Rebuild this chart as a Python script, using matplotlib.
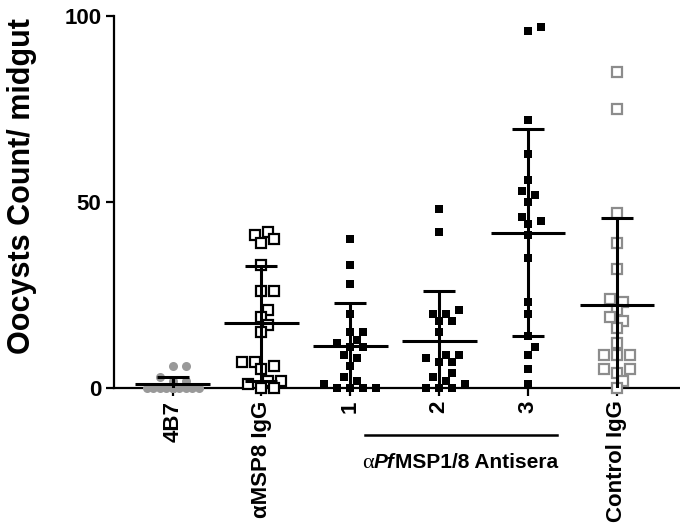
import numpy as np
import matplotlib
matplotlib.use("Agg")
import matplotlib.pyplot as plt
from matplotlib.offsetbox import TextArea, HPacker, AnnotationBbox

plt.rcParams['font.family'] = ['Liberation Sans', 'DejaVu Sans']

categories = ["4B7", "αMSP8 IgG", "1", "2", "3", "Control IgG"]

g_4b7 = [6, 6, 3, 2, 2, 0, 0, 0, 0, 0, 0, 0, 0, 0, 0, 0, 0, 0, 0, 0]
g_msp8 = [42, 41, 40, 39, 33, 26, 26, 21, 19, 17, 15, 7, 7, 6, 5, 2, 2, 1, 0, 0]
g_1 = [40, 33, 28, 20, 15, 15, 13, 12, 11, 11, 9, 8, 6, 3, 2, 1, 0, 0, 0, 0]
g_2 = [48, 42, 21, 20, 20, 18, 18, 15, 9, 9, 8, 7, 7, 4, 3, 2, 1, 0, 0, 0]
g_3 = [97, 96, 72, 63, 56, 53, 52, 50, 46, 45, 44, 41, 35, 23, 20, 14, 11, 9, 5, 1]
g_ctrl = [85, 75, 47, 39, 32, 24, 23, 21, 19, 18, 16, 12, 9, 9, 9, 5, 5, 4, 2, 0]
groups = [g_4b7, g_msp8, g_1, g_2, g_3, g_ctrl]

means = [1.0, 17.4, 11.3, 12.7, 41.8, 22.3]
sds = [2.0, 15.4, 11.6, 13.5, 27.7, 23.5]

yticks = [0, 50, 100]
bracket_label_parts = ["α", "Pf", "MSP1/8 Antisera"]

# ---- styles ----
gray = '#999999'
styles = [
    dict(marker='o', mfc=gray, mec=gray, ms=6.5, mew=0),
    dict(marker='s', mfc='white', mec='black', ms=6.5, mew=1.6),
    dict(marker='s', mfc='black', mec='black', ms=5.6, mew=0),
    dict(marker='s', mfc='black', mec='black', ms=5.6, mew=0),
    dict(marker='s', mfc='black', mec='black', ms=5.6, mew=0),
    dict(marker='s', mfc='white', mec='#8c8c8c', ms=6.5, mew=1.6),
]

W, H = 680, 532
fig = plt.figure(figsize=(W / 100, H / 100), dpi=100)
ax_l, ax_r, ax_b, ax_t = 114, 680, 388, 16
ax = fig.add_axes([ax_l / W, 1 - ax_b / H, (ax_r - ax_l) / W, (ax_b - ax_t) / H])
xmin, xmax = -0.66, 5.71
ax.set_xlim(xmin, xmax)
ax.set_ylim(0, 100)

px_x = (ax_r - ax_l) / (xmax - xmin)
px_y = (ax_b - ax_t) / 100.0


def swarm(vals, step=6.5, dmin=9.0, maxoff=30.0):
    vals = np.asarray(vals, dtype=float)
    cands = [0.0]
    k = 1
    while k * step <= maxoff:
        cands += [k * step, -k * step]
        k += 1
    placed = []
    offs = np.zeros(len(vals))
    for i in np.argsort(vals, kind='stable'):
        y = vals[i] * px_y
        chosen = None
        for c in cands:
            if all(np.hypot(c - px, y - py) >= dmin for px, py in placed):
                chosen = c
                break
        if chosen is None:
            best, bestd = 0.0, -1
            for c in cands:
                d = min(np.hypot(c - px, y - py) for px, py in placed)
                if d > bestd + 1e-9:
                    best, bestd = c, d
            chosen = best
        placed.append((chosen, y))
        offs[i] = chosen / px_x
    return offs


for i, (vals, st) in enumerate(zip(groups, styles)):
    offs = swarm(vals)
    ax.plot(i + offs, vals, linestyle='none', clip_on=False, zorder=3, **st)

xs = np.arange(len(categories))
ax.errorbar(xs, means, yerr=sds, fmt='none', ecolor='black', elinewidth=2.2,
            capsize=11.5, capthick=2.2, zorder=4)
ax.hlines(means, xs - 0.42, xs + 0.42, colors='black', linewidth=2.2, zorder=4)

for s in ['top', 'right']:
    ax.spines[s].set_visible(False)
for s in ['left', 'bottom']:
    ax.spines[s].set_linewidth(1.6)
    ax.spines[s].set_zorder(2)

ax.set_yticks(yticks)
ax.set_yticklabels([str(t) for t in yticks], fontsize=16, fontweight='bold')
ax.set_xticks(xs)
ax.set_xticklabels(categories, rotation=90, fontsize=16, fontweight='bold',
                   ha='center', va='top')
ax.tick_params(axis='both', length=6, width=1.6, direction='out', pad=3)

fig.text(22 / W, 1 - 186 / H, "Oocysts Count/ midgut", rotation=90,
         ha='center', va='center', fontsize=22, fontweight='bold')

# bracket under groups 1-3
y_line = (ax_b - 435) / px_y
x0 = xmin + (365 - ax_l) / px_x
x1 = xmin + (557 - ax_l) / px_x
ax.plot([x0, x1], [y_line, y_line], color='black', lw=1.8, clip_on=False)

ta1 = TextArea(bracket_label_parts[0], textprops=dict(fontfamily='Liberation Serif', fontsize=16))
ta2 = TextArea(bracket_label_parts[1], textprops=dict(fontweight='bold', fontstyle='italic', fontsize=15))
ta3 = TextArea(bracket_label_parts[2], textprops=dict(fontweight='bold', fontsize=15))
box = HPacker(children=[ta1, ta2, ta3], align='baseline', pad=0, sep=0)
xt = xmin + (460 - ax_l) / px_x
yt = (ax_b - 463) / px_y
ab = AnnotationBbox(box, (xt, yt), xycoords='data', frameon=False,
                    box_alignment=(0.5, 0.5), annotation_clip=False)
ax.add_artist(ab)

fig.savefig("out.png", dpi=100)
